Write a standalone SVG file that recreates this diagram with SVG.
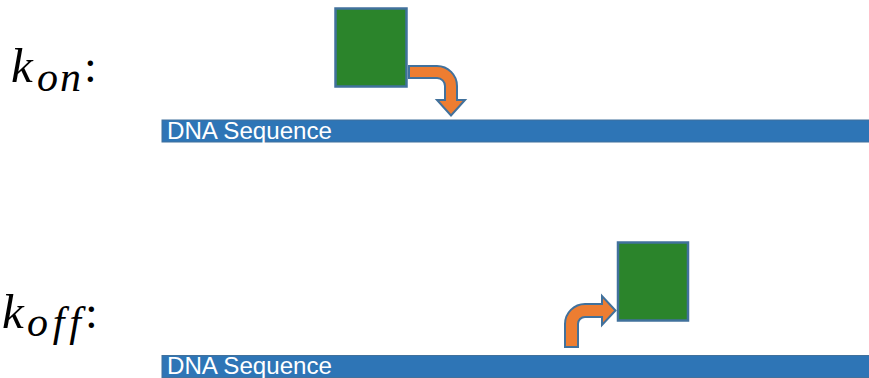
<svg xmlns="http://www.w3.org/2000/svg" width="869" height="378" viewBox="0 0 869 378">
  <style>
    .math { font-family: "Liberation Serif", "DejaVu Serif", serif; font-style: italic; fill: #000; }
    .colon { font-family: "Liberation Serif", "DejaVu Serif", serif; fill: #000; }
    .strand { fill: #2E75B6; stroke: #41719C; stroke-width: 1; }
    .strand-label { font-family: "Liberation Sans", Arial, sans-serif; font-size: 24.5px; fill: #fff; }
    .protein { fill: #2B842B; stroke: #41719C; stroke-width: 2.5; }
    .move { fill: #ED7D31; stroke: #41719C; stroke-width: 2; stroke-linejoin: miter; }
  </style>

  <rect width="869" height="378" fill="#fff"/>

  <!-- rate labels -->
  <g id="label-kon">
    <text class="math" x="11" y="81.5" font-size="49">k</text>
    <text class="math" x="37" y="91" font-size="42" textLength="44" lengthAdjust="spacing">on</text>
    <text class="colon" x="84" y="81.5" font-size="46">:</text>
  </g>
  <g id="label-koff">
    <text class="math" x="2" y="328" font-size="49">k</text>
    <text class="math" x="27" y="336" font-size="42" textLength="54" lengthAdjust="spacing">off</text>
    <text class="colon" x="85" y="328" font-size="46">:</text>
  </g>

  <!-- binding row -->
  <g id="dna-top">
    <rect class="strand" x="162" y="120" width="720" height="22"/>
    <text class="strand-label" x="167" y="138.5" textLength="165" lengthAdjust="spacingAndGlyphs">DNA Sequence</text>
  </g>
  <g id="protein-top">
    <rect class="protein" x="335.5" y="8.5" width="71" height="78"/>
  </g>

  <!-- unbinding row -->
  <g id="dna-bottom">
    <rect class="strand" x="162" y="355.5" width="720" height="22"/>
    <text class="strand-label" x="167" y="373.5" textLength="165" lengthAdjust="spacingAndGlyphs">DNA Sequence</text>
  </g>
  <g id="protein-bottom">
    <rect class="protein" x="618" y="242.5" width="70" height="78"/>
  </g>

  <!-- connectors: bent arrows -->
  <g id="connectors">
    <path class="move" d="M 409 66 L 437 66 A 20 20 0 0 1 457 86 L 457 100 L 465 100 L 451 115.5 L 437 100 L 445 100 L 445 86 A 8 8 0 0 0 437 78 L 409 78 Z"/>
    <path class="move" d="M 565 347 L 565 324 A 20 20 0 0 1 585 304 L 602 304 L 602 296 L 615.5 310.5 L 602 325 L 602 317 L 585 317 A 7 7 0 0 0 578 324 L 578 347 Z"/>
  </g>
</svg>
